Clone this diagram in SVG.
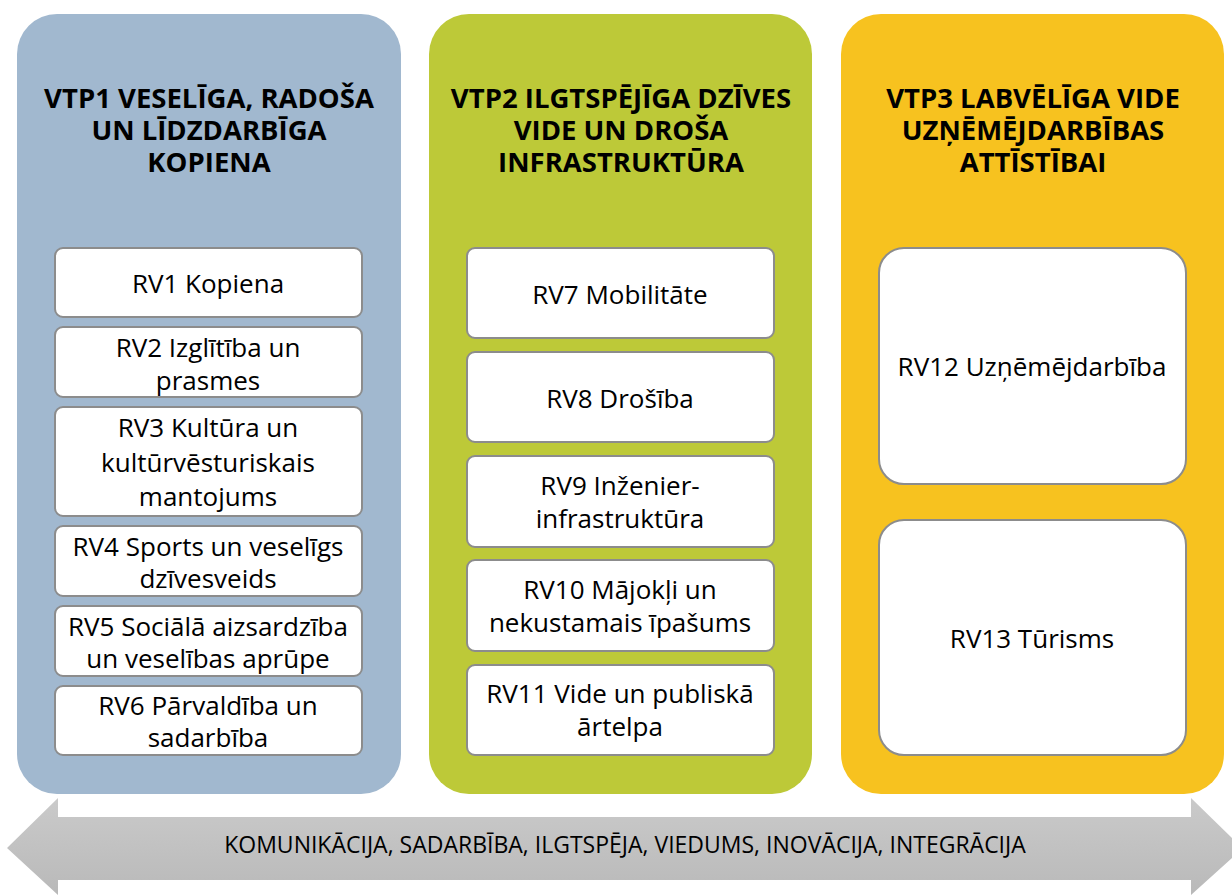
<svg xmlns="http://www.w3.org/2000/svg" width="1232" height="895" viewBox="0 0 1232 895">
<defs>
<linearGradient id="ag" x1="0" y1="0" x2="0" y2="1">
<stop offset="0" stop-color="#cacaca"/><stop offset="1" stop-color="#b9b9b9"/>
</linearGradient>
<style>
.h{font-family:"Open Sans","Noto Sans",sans-serif;font-weight:bold;font-size:27.5px;fill:#000;text-anchor:middle}
.t{font-family:"Open Sans","Noto Sans",sans-serif;font-size:26px;fill:#000;text-anchor:middle}
.b{fill:#fff;stroke:#8c8c8c;stroke-width:2}
.a{font-family:"Open Sans","Noto Sans",sans-serif;font-size:23px;fill:#000;text-anchor:middle}
</style>
</defs>
<rect width="1232" height="895" fill="#fff"/>
<g id="arrow">
<polygon points="7,848 58,798 58,817 1191,817 1191,798 1232,838 1232,858 1191,895 1191,880 58,880 58,895" fill="url(#ag)"/>
<text class="a" x="625" y="853">KOMUNIKĀCIJA, SADARBĪBA, ILGTSPĒJA, VIEDUMS, INOVĀCIJA, INTEGRĀCIJA</text>
</g>
<g id="vtp1">
<rect x="17" y="14" width="384" height="780" rx="40" fill="#a1b8cf"/>
<text class="h" x="209" y="108">VTP1 VESELĪGA, RADOŠA</text>
<text class="h" x="209" y="140">UN LĪDZDARBĪGA</text>
<text class="h" x="209" y="172">KOPIENA</text>
</g>
<g id="vtp2">
<rect x="429" y="14" width="383" height="780" rx="40" fill="#bdc938"/>
<text class="h" x="621" y="108">VTP2 ILGTSPĒJĪGA DZĪVES</text>
<text class="h" x="621" y="140">VIDE UN DROŠA</text>
<text class="h" x="621" y="172">INFRASTRUKTŪRA</text>
</g>
<g id="vtp3">
<rect x="841" y="14" width="383" height="780" rx="40" fill="#f7c21f"/>
<text class="h" x="1033" y="108">VTP3 LABVĒLĪGA VIDE</text>
<text class="h" x="1033" y="140">UZŅĒMĒJDARBĪBAS</text>
<text class="h" x="1033" y="172">ATTĪSTĪBAI</text>
</g>
<g id="rv1"><rect class="b" x="55" y="248" width="307" height="69" rx="8"/><text class="t" x="208" y="293">RV1 Kopiena</text></g>
<g id="rv2"><rect class="b" x="55" y="327" width="307" height="70" rx="8"/><text class="t" x="208" y="357">RV2 Izglītība un</text><text class="t" x="208" y="390">prasmes</text></g>
<g id="rv3"><rect class="b" x="55" y="407" width="307" height="109" rx="8"/><text class="t" x="208" y="437">RV3 Kultūra un</text><text class="t" x="208" y="472">kultūrvēsturiskais</text><text class="t" x="208" y="506">mantojums</text></g>
<g id="rv4"><rect class="b" x="55" y="526" width="307" height="70" rx="8"/><text class="t" x="208" y="556">RV4 Sports un veselīgs</text><text class="t" x="208" y="588">dzīvesveids</text></g>
<g id="rv5"><rect class="b" x="55" y="606" width="307" height="70" rx="8"/><text class="t" x="208" y="636">RV5 Sociālā aizsardzība</text><text class="t" x="208" y="668">un veselības aprūpe</text></g>
<g id="rv6"><rect class="b" x="55" y="686" width="307" height="69" rx="8"/><text class="t" x="208" y="715">RV6 Pārvaldība un</text><text class="t" x="208" y="747">sadarbība</text></g>
<g id="rv7"><rect class="b" x="467" y="248" width="307" height="90" rx="8"/><text class="t" x="620" y="304">RV7 Mobilitāte</text></g>
<g id="rv8"><rect class="b" x="467" y="352" width="307" height="90" rx="8"/><text class="t" x="620" y="408">RV8 Drošība</text></g>
<g id="rv9"><rect class="b" x="467" y="456" width="307" height="91" rx="8"/><text class="t" x="620" y="495">RV9 Inženier-</text><text class="t" x="620" y="528">infrastruktūra</text></g>
<g id="rv10"><rect class="b" x="467" y="560" width="307" height="91" rx="8"/><text class="t" x="620" y="599">RV10 Mājokļi un</text><text class="t" x="620" y="632">nekustamais īpašums</text></g>
<g id="rv11"><rect class="b" x="467" y="665" width="307" height="90" rx="8"/><text class="t" x="620" y="703">RV11 Vide un publiskā</text><text class="t" x="620" y="736">ārtelpa</text></g>
<g id="rv12"><rect class="b" x="879" y="248" width="307" height="236" rx="25"/><text class="t" x="1032" y="376">RV12 Uzņēmējdarbība</text></g>
<g id="rv13"><rect class="b" x="879" y="520" width="307" height="235" rx="25"/><text class="t" x="1032" y="648">RV13 Tūrisms</text></g>
</svg>
